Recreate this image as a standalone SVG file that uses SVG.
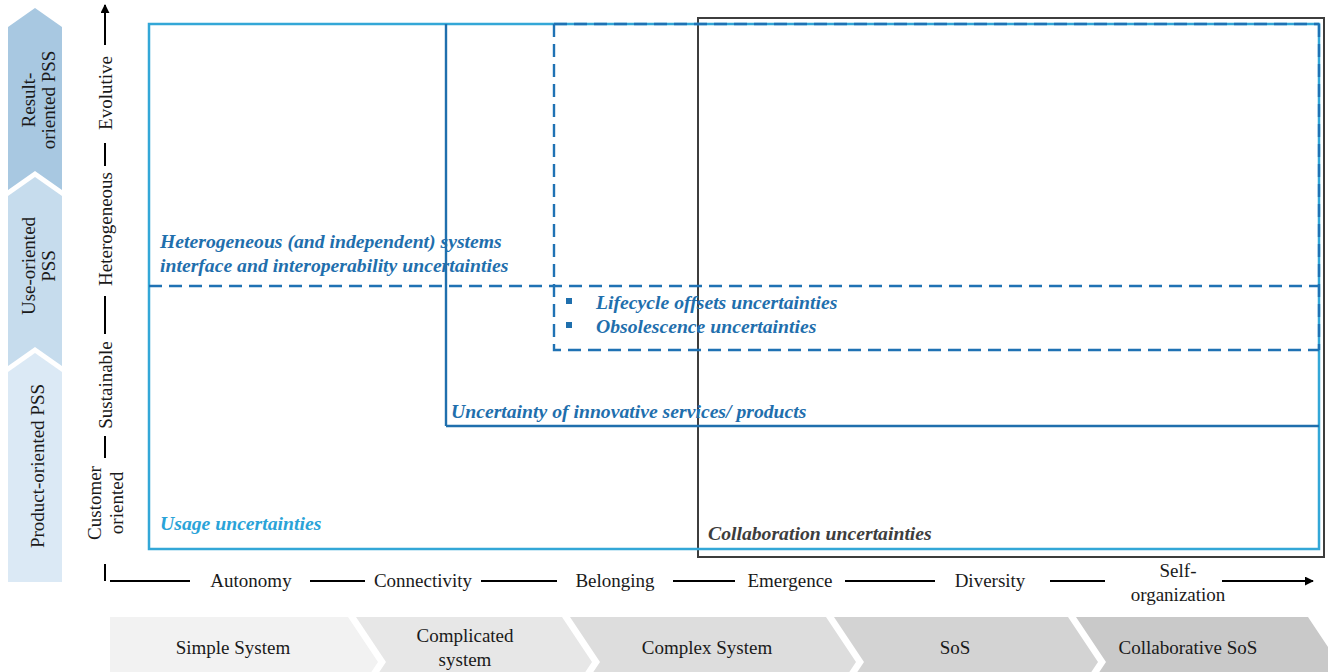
<svg xmlns="http://www.w3.org/2000/svg" width="1328" height="672" viewBox="0 0 1328 672">
<defs>
<style>
.lbl{font-family:"Liberation Serif","Times New Roman",serif;font-size:19px;fill:#1a1a1a}
.bi{font-family:"Liberation Serif","Times New Roman",serif;font-size:19.7px;font-weight:bold;font-style:italic}
.dk{fill:#1f6fad}
.axis{stroke:#000;stroke-width:2;fill:none}
</style>
<marker id="arr" viewBox="0 0 10 10" refX="9" refY="5" markerWidth="9" markerHeight="9" markerUnits="userSpaceOnUse" orient="auto">
<path d="M0,0 L10,5 L0,10 z" fill="#000"/>
</marker>
</defs>
<rect width="1328" height="672" fill="#fff"/>

<g id="pss-chevrons">
<polygon points="8,27 35,8 62,27 62,190 35,171 8,190" fill="#a8c8e1"/>
<polygon points="8,196 35,177 62,196 62,366 35,347 8,366" fill="#c6dced"/>
<polygon points="8,372 35,353 62,372 62,582 8,582" fill="#dbe9f5"/>
<text class="lbl" transform="translate(28,100) rotate(-90)" text-anchor="middle" dominant-baseline="central">Result-</text>
<text class="lbl" transform="translate(48,100) rotate(-90)" text-anchor="middle" dominant-baseline="central">oriented PSS</text>
<text class="lbl" transform="translate(28,266) rotate(-90)" text-anchor="middle" dominant-baseline="central">Use-oriented</text>
<text class="lbl" transform="translate(48,266) rotate(-90)" text-anchor="middle" dominant-baseline="central">PSS</text>
<text class="lbl" transform="translate(37,466) rotate(-90)" text-anchor="middle" dominant-baseline="central">Product-oriented PSS</text>
</g>

<g id="system-chevrons">
<polygon points="110,617 348,617 378,662 348,707 110,707" fill="#f2f2f2"/>
<polygon points="356,617 562,617 592,662 562,707 356,707 386,662" fill="#e7e7e7"/>
<polygon points="570,617 826,617 856,662 826,707 570,707 600,662" fill="#dddddd"/>
<polygon points="834,617 1068,617 1098,662 1068,707 834,707 864,662" fill="#d3d3d3"/>
<polygon points="1076,617 1308,617 1338,662 1308,707 1076,707 1106,662" fill="#c9c9c9"/>
<text class="lbl" x="233" y="654" text-anchor="middle">Simple System</text>
<text class="lbl" x="465" y="642" text-anchor="middle">Complicated</text>
<text class="lbl" x="465" y="666" text-anchor="middle">system</text>
<text class="lbl" x="707" y="654" text-anchor="middle">Complex System</text>
<text class="lbl" x="955" y="654" text-anchor="middle">SoS</text>
<text class="lbl" x="1188" y="654" text-anchor="middle">Collaborative SoS</text>
</g>

<g id="axes">
<line class="axis" x1="105" y1="45" x2="105" y2="5" marker-end="url(#arr)"/>
<line class="axis" x1="105" y1="143" x2="105" y2="166"/>
<line class="axis" x1="105" y1="296" x2="105" y2="334"/>
<line class="axis" x1="105" y1="436" x2="105" y2="458"/>
<line class="axis" x1="105" y1="564" x2="105" y2="581"/>
<line class="axis" x1="110" y1="581" x2="190" y2="581"/>
<line class="axis" x1="310" y1="581" x2="365" y2="581"/>
<line class="axis" x1="481" y1="581" x2="557" y2="581"/>
<line class="axis" x1="673" y1="581" x2="735" y2="581"/>
<line class="axis" x1="845" y1="581" x2="935" y2="581"/>
<line class="axis" x1="1050" y1="581" x2="1105" y2="581"/>
<line class="axis" x1="1222" y1="581" x2="1313" y2="581" marker-end="url(#arr)"/>
<text class="lbl" transform="translate(105,93) rotate(-90)" text-anchor="middle" dominant-baseline="central">Evolutive</text>
<text class="lbl" transform="translate(105,229) rotate(-90)" text-anchor="middle" dominant-baseline="central">Heterogeneous</text>
<text class="lbl" transform="translate(105,385) rotate(-90)" text-anchor="middle" dominant-baseline="central">Sustainable</text>
<text class="lbl" transform="translate(94,503) rotate(-90)" text-anchor="middle" dominant-baseline="central">Customer</text>
<text class="lbl" transform="translate(116,503) rotate(-90)" text-anchor="middle" dominant-baseline="central">oriented</text>
<text class="lbl" x="251" y="587" text-anchor="middle">Autonomy</text>
<text class="lbl" x="423" y="587" text-anchor="middle">Connectivity</text>
<text class="lbl" x="615" y="587" text-anchor="middle">Belonging</text>
<text class="lbl" x="790" y="587" text-anchor="middle">Emergence</text>
<text class="lbl" x="990" y="587" text-anchor="middle">Diversity</text>
<text class="lbl" x="1178" y="577" text-anchor="middle">Self-</text>
<text class="lbl" x="1178" y="601" text-anchor="middle">organization</text>
</g>

<g id="collaboration">
<rect x="698" y="18" width="626" height="539" fill="none" stroke="#3d3d3d" stroke-width="2"/>
<text class="bi" x="708" y="540" fill="#3d3d3d">Collaboration uncertainties</text>
</g>

<g id="usage">
<rect x="149" y="24" width="1170" height="525" fill="none" stroke="#33a7d7" stroke-width="2.5"/>
<text class="bi" x="160" y="530" fill="#2aa3d8">Usage uncertainties</text>
</g>

<g id="innovative">
<path d="M446,426 L446,24 M446,426 L1319,426" fill="none" stroke="#1f6fad" stroke-width="2.4"/>
<text class="bi dk" x="451" y="418">Uncertainty of innovative services/ products</text>
</g>

<g id="heterogeneous">
<path d="M149,286 L1319,286 M554,24 L1319,24 M554,24 L554,350 L1319,350 M1319,24 L1319,350" fill="none" stroke="#1f72b4" stroke-width="2.4" stroke-dasharray="13,7"/>
<text class="bi dk" x="160" y="248">Heterogeneous (and independent) systems</text>
<text class="bi dk" x="160" y="272">interface and interoperability uncertainties</text>
</g>

<g id="lifecycle">
<rect x="566" y="298" width="6" height="6" fill="#1f6fad"/>
<rect x="566" y="322" width="6" height="6" fill="#1f6fad"/>
<text class="bi dk" x="596" y="309">Lifecycle offsets uncertainties</text>
<text class="bi dk" x="596" y="333">Obsolescence uncertainties</text>
</g>
</svg>
